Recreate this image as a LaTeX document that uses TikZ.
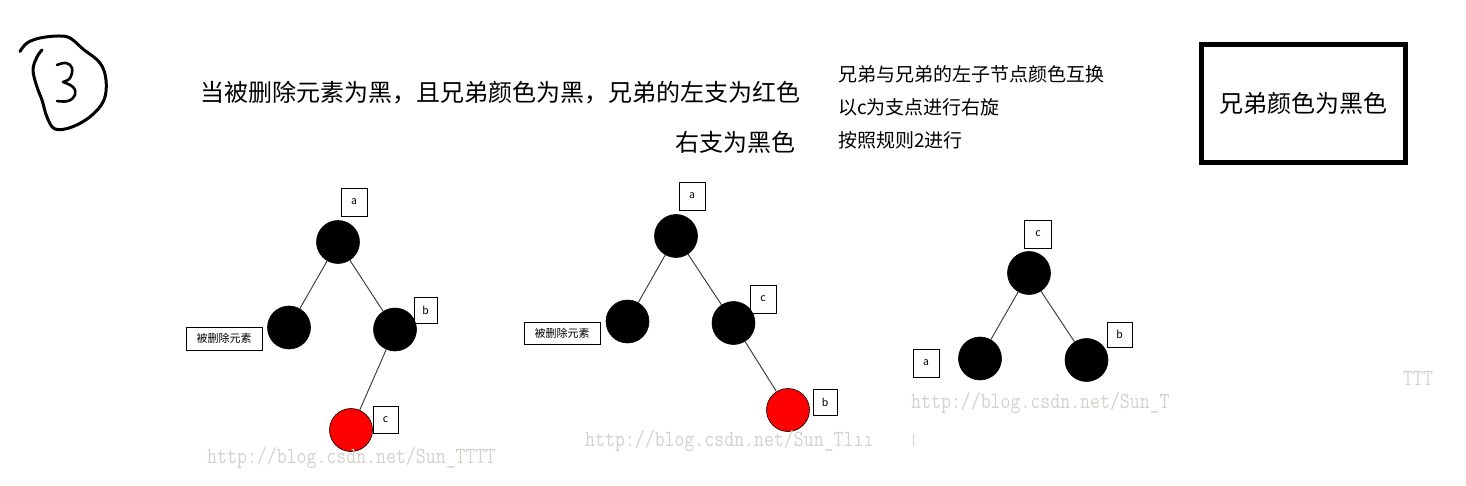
\documentclass[tikz,border=0pt]{standalone}
\usepackage{fontspec}
\newfontfamily\cjk{Noto Sans CJK SC}
\definecolor{wmgray}{RGB}{210,210,205}
\begin{document}
\begin{tikzpicture}[x=1pt,y=-1pt,
  rb/.style={circle, draw=black, line width=0.6pt, fill=black, minimum size=43pt, inner sep=0pt},
  rr/.style={rb, fill=red},
  lbl/.style={draw, line width=0.9pt, inner sep=0pt, font=\cjk\fontsize{10.5}{10.5}\selectfont},
  dlbl/.style={lbl, font=\cjk\fontsize{11}{11}\selectfont},
  edge/.style={draw=black!80, line width=0.9pt},
  wm/.style={text=wmgray, font=\ttfamily\fontsize{19.3}{19.3}\selectfont, inner sep=0pt, anchor=west},
  head/.style={font=\cjk\fontsize{24}{24}\selectfont, inner sep=0pt, anchor=west},
  note/.style={font=\cjk\fontsize{19}{19}\selectfont, inner sep=0pt, anchor=west},
  hand/.style={line width=3pt, line cap=round, line join=round}]
\useasboundingbox (0,0) rectangle (1466,486);

% handwritten circled 3
\draw[hand] plot[smooth, tension=0.6] coordinates {(20,51.5) (27,43) (40,38) (58,36) (70,38) (83,49) (100,63) (106,80) (104,100) (91,116) (72,127) (55,129) (47,117) (42,100) (37,87) (33,70) (37,57) (42,50)};
\draw[hand, line width=2.6pt] plot[smooth, tension=0.7] coordinates {(57,65) (66,63) (72,68) (70,78) (63,82)};
\draw[hand, line width=2.6pt] plot[smooth, tension=0.7] coordinates {(63,82) (73,87) (75,95) (68,101) (57,101)};

% headings
\node[head] (h1) at (200,93) {当被删除元素为黑，且兄弟颜色为黑，兄弟的左支为红色};
\node[head] (h2) at (675,142) {右支为黑色};
\node[note] (n1) at (838,74) {兄弟与兄弟的左子节点颜色互换};
\node[note] (n2) at (838,107) {以c为支点进行右旋};
\node[note] (n3) at (838,140) {按照规则2进行};
\node[draw, line width=5pt, minimum width=204pt, minimum height=118pt, inner sep=0pt,
      font=\cjk\fontsize{24}{24}\selectfont] (box) at (1303.5,103.5) {兄弟颜色为黑色};

% tree 1
\node[rb] (t1a) at (338,242) {};
\node[rb] (t1l) at (289,327.5) {};
\node[rb] (t1b) at (395,329.5) {};
\node[rr] (t1c) at (351,430) {};
\draw[edge] (t1a) -- (t1l);
\draw[edge] (t1a) -- (t1b);
\draw[edge] (t1b) -- (t1c);
\node[lbl, minimum width=26pt, minimum height=28pt] (t1al) at (354,202) {a};
\node[lbl, minimum width=23pt, minimum height=26pt] (t1bl) at (425.5,310) {b};
\node[lbl, minimum width=25pt, minimum height=27pt] (t1cl) at (385.5,420) {c};
\node[dlbl, minimum width=76pt, minimum height=23pt] (t1d) at (224,338.5) {被删除元素};

% tree 2
\node[rb] (t2a) at (676,236) {};
\node[rb] (t2l) at (627.5,321.5) {};
\node[rb] (t2c) at (733.5,323) {};
\node[rr] (t2b) at (788,410) {};
\draw[edge] (t2a) -- (t2l);
\draw[edge] (t2a) -- (t2c);
\draw[edge] (t2c) -- (t2b);
\node[lbl, minimum width=26pt, minimum height=28pt] (t2al) at (692,196) {a};
\node[lbl, minimum width=26pt, minimum height=28pt] (t2cl) at (763,299) {c};
\node[lbl, minimum width=24pt, minimum height=26pt] (t2bl) at (825,402) {b};
\node[dlbl, minimum width=76pt, minimum height=22pt] (t2d) at (562,333) {被删除元素};

% tree 3
\node[rb] (t3c) at (1029,273) {};
\node[rb] (t3a) at (980,358.5) {};
\node[rb] (t3b) at (1086.5,360) {};
\draw[edge] (t3c) -- (t3a);
\draw[edge] (t3c) -- (t3b);
\node[lbl, minimum width=27pt, minimum height=28pt] (t3cl) at (1038,234) {c};
\node[lbl, minimum width=25pt, minimum height=25pt] (t3bl) at (1119.5,334.5) {b};
\node[lbl, minimum width=26pt, minimum height=28pt] (t3al) at (926,363) {a};

% watermarks
\node[wm] (w1) at (207,458) {\scalebox{1}[1.2]{http://blog.csdn.net/Sun\_TTTT}};
\node[wm] (w2) at (585,441) {\scalebox{1}[1.2]{http://blog.csdn.net/Sun\_Tl\i\i}};
\node[wm] (w3) at (911,403) {\scalebox{1}[1.2]{http://blog.csdn.net/Sun\_T}};
\node[wm] (w4) at (1403,378) {\scalebox{1}[1.2]{TTT}};
\coordinate (m1) at (913,434);
\coordinate (m2) at (913,446);
\draw[wmgray, line width=1pt] (m1) -- (m2);
\end{tikzpicture}
\end{document}
